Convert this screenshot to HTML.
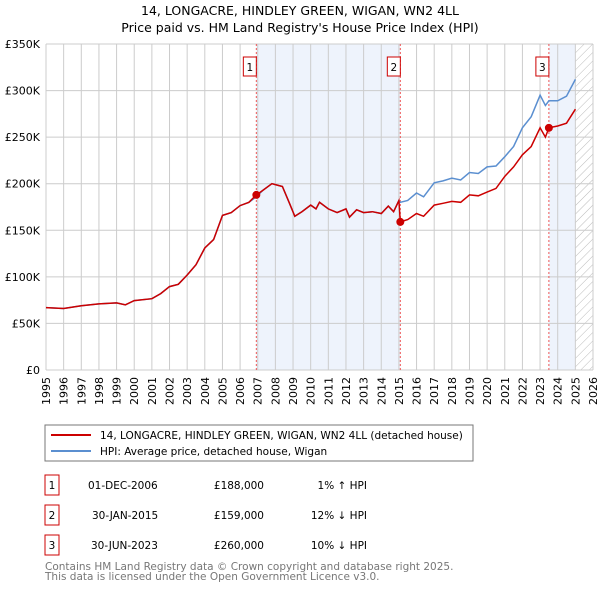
<!DOCTYPE html>
<html><head><meta charset="utf-8"><style>
body{margin:0;background:#fff;font-family:"Liberation Sans","DejaVu Sans",sans-serif;}
svg text{font-family:"DejaVu Sans","Liberation Sans",sans-serif;}
</style></head><body>
<svg id="c" width="600" height="590" xmlns="http://www.w3.org/2000/svg">
<defs><pattern id="h" width="6" height="6" patternUnits="userSpaceOnUse" patternTransform="rotate(45)"><line x1="0" y1="0" x2="0" y2="6" stroke="#bbb" stroke-width="1"/></pattern></defs>
<text x="300" y="15" text-anchor="middle" font-size="12.5">14, LONGACRE, HINDLEY GREEN, WIGAN, WN2 4LL</text>
<text x="300" y="32" text-anchor="middle" font-size="12.5">Price paid vs. HM Land Registry's House Price Index (HPI)</text>
<g id="plot"></g>
<rect x="45" y="425" width="428" height="36" fill="#fff" stroke="#777"/>
<line x1="51" y1="435" x2="91" y2="435" stroke="#cc0000" stroke-width="2"/>
<text x="100" y="439" font-size="10.5">14, LONGACRE, HINDLEY GREEN, WIGAN, WN2 4LL (detached house)</text>
<line x1="51" y1="451" x2="91" y2="451" stroke="#5b8fd0" stroke-width="2"/>
<text x="100" y="455" font-size="10.5">HPI: Average price, detached house, Wigan</text>
<g font-size="10.5">
<rect x="45" y="475" width="14" height="20" fill="none" stroke="#cc0000"/><text x="52" y="489" text-anchor="middle">1</text>
<text x="88" y="489">01-DEC-2006</text><text x="264" y="489" text-anchor="end">£188,000</text><text x="367" y="489" text-anchor="end">1% ↑ HPI</text>
<rect x="45" y="505" width="14" height="20" fill="none" stroke="#cc0000"/><text x="52" y="519" text-anchor="middle">2</text>
<text x="92" y="519">30-JAN-2015</text><text x="264" y="519" text-anchor="end">£159,000</text><text x="367" y="519" text-anchor="end">12% ↓ HPI</text>
<rect x="45" y="535" width="14" height="20" fill="none" stroke="#cc0000"/><text x="52" y="549" text-anchor="middle">3</text>
<text x="91" y="549">30-JUN-2023</text><text x="264" y="549" text-anchor="end">£260,000</text><text x="367" y="549" text-anchor="end">10% ↓ HPI</text>
</g>
<text x="45" y="570" font-size="10.5" fill="#777">Contains HM Land Registry data © Crown copyright and database right 2025.</text>
<text x="45" y="580" font-size="10.5" fill="#777">This data is licensed under the Open Government Licence v3.0.</text>
</svg>
<script>
const years=[1995,1996,1997,1998,1999,1999.5,2000,2001,2001.5,2002,2002.5,2003,2003.5,2004,2004.5,2005,2005.5,2006,2006.5,2006.92,2007.3,2007.8,2008,2008.4,2008.8,2009.1,2009.5,2010,2010.3,2010.5,2011,2011.5,2012,2012.2,2012.6,2013,2013.5,2014,2014.4,2014.7,2015.0,2015.08,2015.5,2016,2016.4,2017,2017.5,2018,2018.5,2019,2019.5,2020,2020.5,2021,2021.5,2022,2022.5,2023,2023.3,2023.5,2024,2024.5,2025];
const hpi=[67,66,69,71,72,70,74.5,76.5,82,89.5,92,102,113,131,140,166,169,176.5,180,186,193,200,199,197,179,165,170,177,173,180,173,169,173,164,172,169,170,168,176,170,182,180,182,190,186,201,203,206,204,212,211,218,219,229,240,260,272,295,284,289,289,294,312];
const price=[67,66,69,71,72,70,74.5,76.5,82,89.5,92,102,113,131,140,166,169,176.5,180,188,193,200,199,197,179,165,170,177,173,180,173,169,173,164,172,169,170,168,176,170,182,159,161.5,168,165,177,179,181,180,188,187,191,195,208,218,231,240,260,250,260,262,265,280];
const saleYears=[2006.92,2015.08,2023.5];
const salePrices=[188,159,260];
const yTicks=[0,50,100,150,200,250,300,350];
const xTicks=[1995,1996,1997,1998,1999,2000,2001,2002,2003,2004,2005,2006,2007,2008,2009,2010,2011,2012,2013,2014,2015,2016,2017,2018,2019,2020,2021,2022,2023,2024,2025,2026];
const X=y=>46+(y-1995)*(547/31), Y=v=>370-v/350*326;
const NS="http://www.w3.org/2000/svg", g=document.getElementById('plot');
function mk(t,a){const e=document.createElementNS(NS,t);for(const k in a)e.setAttribute(k,a[k]);g.appendChild(e);return e;}
let e;
e=mk('rect',{x:X(saleYears[0]),y:44,width:X(saleYears[1])-X(saleYears[0]),height:326,fill:'#eef3fc'});


e=mk('rect',{x:X(saleYears[2]),y:44,width:X(2025)-X(saleYears[2]),height:326,fill:'#eef3fc'});


e=mk('rect',{x:X(2025),y:44,width:X(2026)-X(2025),height:326,fill:'url(#h)'});


xTicks.forEach(t=>{e=mk('line',{x1:X(t),x2:X(t),y1:44,y2:370,stroke:'#ccc'});


const tx=X(t)+4,ty=377;
e=mk('text',{x:tx,y:ty,'text-anchor':'end','font-size':'11',transform:'rotate(-90 '+tx+' '+ty+')'});e.textContent=t;

});
yTicks.forEach(t=>{e=mk('line',{x1:46,x2:593,y1:Y(t),y2:Y(t),stroke:'#ccc'});


e=mk('text',{x:40,y:Y(t)+4,'text-anchor':'end','font-size':'11'});e.textContent=t?'£'+t+'K':'£0';

});
saleYears.forEach((s,i)=>{e=mk('line',{x1:X(s),x2:X(s),y1:44,y2:370,stroke:'#ee5555','stroke-dasharray':'2,2'});


e=mk('rect',{x:X(s)-13,y:57,width:13,height:19,fill:'#fff',stroke:'#cc0000'});


e=mk('text',{x:X(s)-6.5,y:71,'text-anchor':'middle','font-size':'10.5'});e.textContent=i+1;

});
const pts=arr=>years.map((y,i)=>X(y).toFixed(1)+','+Y(arr[i]).toFixed(1)).join(' ');
e=mk('polyline',{points:pts(hpi),fill:'none',stroke:'#5b8fd0','stroke-width':1.5});


e=mk('polyline',{points:pts(price),fill:'none',stroke:'#cc0000','stroke-width':1.5});


saleYears.forEach((s,i)=>{e=mk('circle',{cx:X(s),cy:Y(salePrices[i]),r:4,fill:'#cc0000'});

});
</script>
</body></html>
